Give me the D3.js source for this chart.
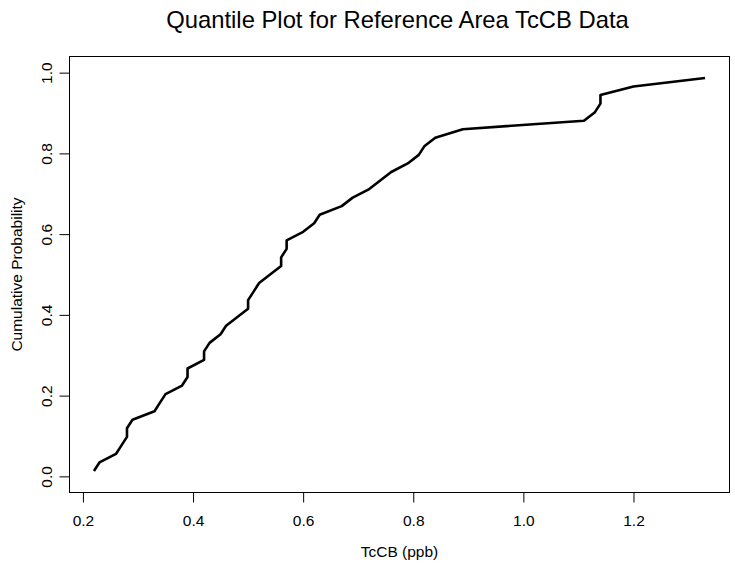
<!DOCTYPE html>
<html>
<head>
<meta charset="utf-8">
<script src="https://cdn.jsdelivr.net/npm/d3@7"></script>
<style>
  html, body { margin: 0; padding: 0; background: #fff; }
  svg { display: block; font-family: "Liberation Sans", Arial, Helvetica, sans-serif; }
</style>
</head>
<body>
<svg id="chart" width="735" height="569"></svg>
<script>
// Reference-area TcCB concentrations (ppb), sorted ascending
const tccb = [0.22, 0.23, 0.26, 0.27, 0.28, 0.28, 0.29, 0.33, 0.34, 0.35,
              0.38, 0.39, 0.39, 0.42, 0.42, 0.43, 0.45, 0.46, 0.48, 0.50,
              0.50, 0.51, 0.52, 0.54, 0.56, 0.56, 0.57, 0.57, 0.60, 0.62,
              0.63, 0.67, 0.69, 0.72, 0.74, 0.76, 0.79, 0.81, 0.82, 0.84,
              0.89, 1.11, 1.13, 1.14, 1.14, 1.20, 1.33];
const xTicks = [0.2, 0.4, 0.6, 0.8, 1.0, 1.2];
const yTicks = [0.0, 0.2, 0.4, 0.6, 0.8, 1.0];
const titleText = "Quantile Plot for Reference Area TcCB Data";
const xLabel = "TcCB (ppb)";
const yLabel = "Cumulative Probability";

// Blom plotting positions (i - 3/8) / (n + 1/4)
const n = tccb.length;
const probs = tccb.map((_, i) => (i + 1 - 0.375) / (n + 0.25));
const points = tccb.map((v, i) => ({ x: v, p: probs[i] }));

const svg = d3.select("#chart");
const box = { left: 69.5, right: 729.5, top: 56.5, bottom: 492.5 };

// axis ranges padded by 4% like a base-graphics plot
const xmin = d3.min(tccb), xmax = d3.max(tccb);
const xpad = (xmax - xmin) * 0.04;
const x = d3.scaleLinear().domain([xmin - xpad, xmax + xpad]).range([box.left, box.right]);
const y = d3.scaleLinear().domain([-0.04, 1.04]).range([box.bottom, box.top]);

const fmt = d3.format(".1f");

// plot frame
svg.append("rect")
  .attr("x", box.left).attr("y", box.top)
  .attr("width", box.right - box.left).attr("height", box.bottom - box.top)
  .attr("fill", "none").attr("stroke", "#000").attr("stroke-width", 1);

// x axis
const xAxis = svg.append("g")
  .attr("transform", `translate(0,${box.bottom})`)
  .call(d3.axisBottom(x).tickValues(xTicks).tickFormat(fmt).tickSize(10).tickPadding(12));
xAxis.select(".domain").remove();
xAxis.selectAll("text").attr("font-size", 15.5).attr("font-family", "Liberation Sans, Arial, sans-serif").attr("fill", "#000");

// y axis with labels rotated parallel to the axis
const yAxis = svg.append("g")
  .attr("transform", `translate(${box.left},0)`)
  .call(d3.axisLeft(y).tickValues(yTicks).tickFormat(fmt).tickSize(10));
yAxis.select(".domain").remove();
yAxis.selectAll("text")
  .attr("font-size", 15.5).attr("font-family", "Liberation Sans, Arial, sans-serif").attr("fill", "#000")
  .attr("x", null).attr("dy", null)
  .attr("text-anchor", "middle")
  .attr("transform", "translate(-18,0) rotate(-90)");

// quantile curve
const line = d3.line().x(d => x(d.x)).y(d => y(d.p));
svg.append("path")
  .datum(points)
  .attr("d", line)
  .attr("fill", "none")
  .attr("stroke", "#000")
  .attr("stroke-width", 2.6)
  .attr("stroke-linejoin", "round");

// titles
svg.append("text")
  .attr("x", (box.left + box.right) / 2 - 2).attr("y", 28)
  .attr("text-anchor", "middle").attr("font-size", 23.8)
  .text(titleText);

svg.append("text")
  .attr("x", (box.left + box.right) / 2).attr("y", 557)
  .attr("text-anchor", "middle").attr("font-size", 15.5)
  .text(xLabel);

svg.append("text")
  .attr("transform", `translate(22,${(box.top + box.bottom) / 2}) rotate(-90)`)
  .attr("text-anchor", "middle").attr("font-size", 15.5)
  .text(yLabel);
</script>
</body>
</html>
